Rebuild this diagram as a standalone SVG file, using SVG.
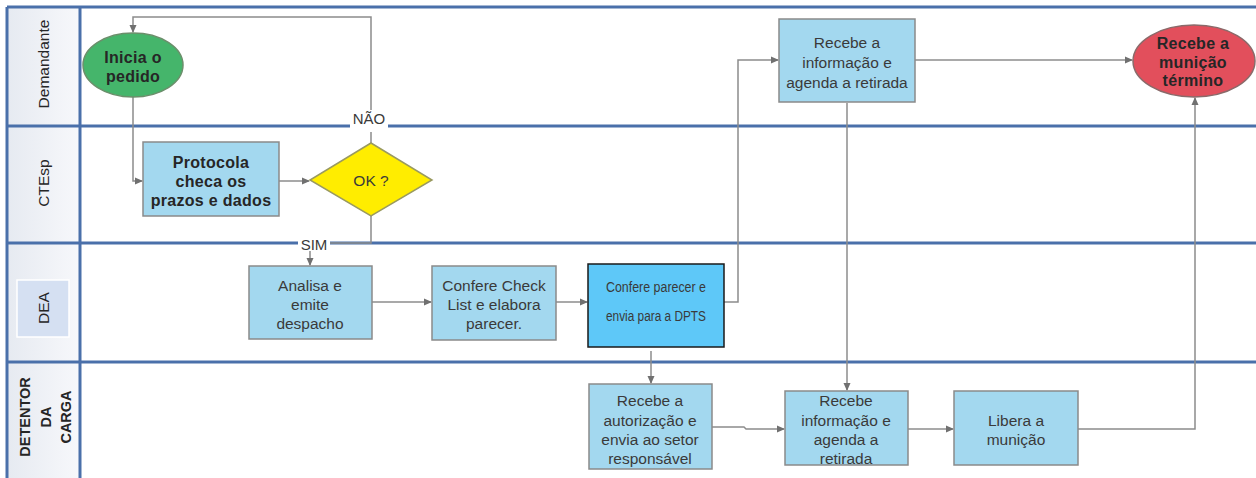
<svg xmlns="http://www.w3.org/2000/svg" width="1256" height="478" viewBox="0 0 1256 478">
<defs>
<linearGradient id="hdr" x1="0" y1="0" x2="1" y2="0">
<stop offset="0" stop-color="#e6eaf1"/>
<stop offset="1" stop-color="#f7f8fb"/>
</linearGradient>
<marker id="ar" markerWidth="8" markerHeight="8" refX="7" refY="4" orient="auto" markerUnits="userSpaceOnUse">
<path d="M0,0.5 L8,4 L0,7.5 Z" fill="#707070"/>
</marker>
</defs>
<style>
.lane{stroke:#4a70aa;stroke-width:3;fill:none}
.box{fill:#a3d8ef;stroke:#8a8a8a;stroke-width:1.5}
.conn{stroke:#8c8c8c;stroke-width:1.5;fill:none}
.t{font-family:"Liberation Sans",Arial,sans-serif;font-size:15.5px;fill:#3a3a3a;text-anchor:middle;dominant-baseline:central}
.b{font-weight:bold;font-size:16px;fill:#262626;letter-spacing:0.3px}
.h{font-family:"Liberation Sans",Arial,sans-serif;font-size:15.5px;fill:#262626;text-anchor:middle;dominant-baseline:central}
.hb{font-weight:bold;font-size:14.5px}
.lbl{font-family:"Liberation Sans",Arial,sans-serif;font-size:15px;fill:#3a3a3a;text-anchor:middle;dominant-baseline:central}
</style>
<rect width="1256" height="478" fill="#ffffff"/>
<g id="lanes">
<rect x="7" y="7" width="73" height="471" fill="url(#hdr)"/>
<line class="lane" x1="7" y1="7" x2="1256" y2="7"/>
<line class="lane" x1="7" y1="126" x2="1256" y2="126"/>
<line class="lane" x1="7" y1="243" x2="1256" y2="243"/>
<line class="lane" x1="7" y1="362" x2="1256" y2="362"/>
<line class="lane" x1="7" y1="7" x2="7" y2="478"/>
<line class="lane" x1="80" y1="7" x2="80" y2="478"/>
<text class="h" transform="translate(43,64) rotate(-90)">Demandante</text>
<text class="h" transform="translate(43,183) rotate(-90)">CTEsp</text>
<rect x="17" y="280" width="52" height="57" fill="#d5e0f2" stroke="#ffffff" stroke-width="1.5"/>
<text class="h" transform="translate(43,308) rotate(-90)">DEA</text>
<text class="h hb" transform="translate(25,417) rotate(-90)">DETENTOR</text>
<text class="h hb" transform="translate(46,417) rotate(-90)">DA</text>
<text class="h hb" transform="translate(66,417) rotate(-90)">CARGA</text>
</g>
<g id="connectors">
<path class="conn" d="M371,143 L371,17 L133,17 L133,32" marker-end="url(#ar)"/>
<path class="conn" d="M133,97 L133,181 L142,181" marker-end="url(#ar)"/>
<path class="conn" d="M279,181 L309,181" marker-end="url(#ar)"/>
<path class="conn" d="M371,216 L371,243 L310,243 L310,265" marker-end="url(#ar)"/>
<path class="conn" d="M372,302 L431,302" marker-end="url(#ar)"/>
<path class="conn" d="M556,302 L587,302" marker-end="url(#ar)"/>
<path class="conn" d="M724,302 L738,302 L738,60 L778,60" marker-end="url(#ar)"/>
<path class="conn" d="M915,60 L1132,60" marker-end="url(#ar)"/>
<path class="conn" d="M847,103 L847,390" marker-end="url(#ar)"/>
<path class="conn" d="M651,351 L651,383" marker-end="url(#ar)"/>
<path class="conn" d="M712,427 L744,427 L746,429 L784,429" marker-end="url(#ar)"/>
<path class="conn" d="M908,429 L953,429" marker-end="url(#ar)"/>
<path class="conn" d="M1078,429 L1195,429 L1195,98" marker-end="url(#ar)"/>
<rect x="350" y="110" width="38" height="22" fill="#ffffff"/>
<text class="lbl" x="369" y="118">NÃO</text>
<rect x="298" y="235" width="32" height="16" fill="#ffffff"/>
<text class="lbl" x="314" y="244">SIM</text>
</g>
<g id="inicia">
<ellipse cx="133" cy="65" rx="50" ry="32" fill="#45b56b" stroke="#6b8f6b" stroke-width="1.5"/>
<text class="t b" x="133" y="57">Inicia o</text>
<text class="t b" x="133" y="76">pedido</text>
</g>
<g id="protocola">
<rect class="box" x="143" y="142" width="136" height="74"/>
<text class="t b" x="211" y="162">Protocola</text>
<text class="t b" x="211" y="181">checa os</text>
<text class="t b" x="211" y="200">prazos e dados</text>
</g>
<g id="ok">
<polygon points="371,143 432,180 371,216 310,180" fill="#ffed00" stroke="#9a9a60" stroke-width="1.5"/>
<text class="t" x="371" y="180">OK ?</text>
</g>
<g id="analisa">
<rect class="box" x="249" y="266" width="123" height="73"/>
<text class="t" x="310" y="285">Analisa e</text>
<text class="t" x="310" y="304">emite</text>
<text class="t" x="310" y="323">despacho</text>
</g>
<g id="confere-check">
<rect class="box" x="432" y="266" width="124" height="74"/>
<text class="t" x="494" y="285">Confere Check</text>
<text class="t" x="494" y="304">List e elabora</text>
<text class="t" x="494" y="323">parecer.</text>
</g>
<g id="confere-parecer">
<rect x="588" y="264" width="136" height="83" fill="#5ec8f8" stroke="#1a1a1a" stroke-width="1.5"/>
<text class="t" x="656" y="286" font-size="13" fill="#111" textLength="100" lengthAdjust="spacingAndGlyphs">Confere parecer e</text>
<text class="t" x="656" y="315" font-size="13" fill="#111" textLength="100" lengthAdjust="spacingAndGlyphs">envia para a DPTS</text>
</g>
<g id="recebe-info-dem">
<rect class="box" x="779" y="19" width="136" height="83"/>
<text class="t" x="847" y="42">Recebe a</text>
<text class="t" x="847" y="62">informação e</text>
<text class="t" x="847" y="82">agenda a retirada</text>
</g>
<g id="recebe-municao">
<ellipse cx="1194" cy="61" rx="61" ry="36" fill="#e24f5c" stroke="#8a6a6a" stroke-width="1.5"/>
<text class="t b" x="1193" y="43">Recebe a</text>
<text class="t b" x="1193" y="62">munição</text>
<text class="t b" x="1193" y="80">término</text>
</g>
<g id="recebe-autorizacao">
<rect class="box" x="589" y="384" width="123" height="85"/>
<text class="t" x="650" y="400">Recebe a</text>
<text class="t" x="650" y="420">autorização e</text>
<text class="t" x="650" y="439">envia ao setor</text>
<text class="t" x="650" y="458">responsável</text>
</g>
<g id="recebe-info-det">
<rect class="box" x="785" y="391" width="123" height="74"/>
<text class="t" x="846" y="400">Recebe</text>
<text class="t" x="846" y="420">informação e</text>
<text class="t" x="846" y="439">agenda a</text>
<text class="t" x="846" y="458">retirada</text>
</g>
<g id="libera">
<rect class="box" x="954" y="391" width="124" height="74"/>
<text class="t" x="1016" y="420">Libera a</text>
<text class="t" x="1016" y="439">munição</text>
</g>
</svg>
